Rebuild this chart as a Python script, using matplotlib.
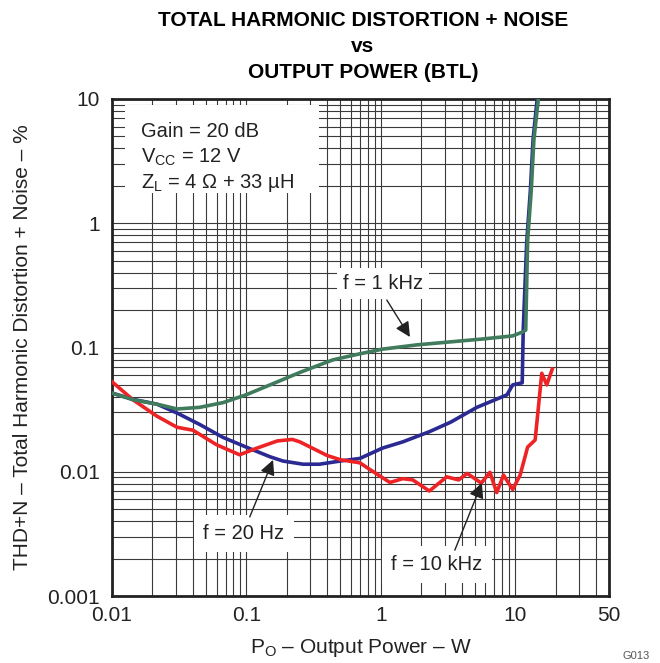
import matplotlib
matplotlib.use('Agg')
from matplotlib import pyplot as plt
from matplotlib.patches import Rectangle
from matplotlib.ticker import LogLocator, NullFormatter, FixedLocator, FixedFormatter

plt.rcParams['font.family'] = ['Liberation Sans', 'DejaVu Sans']
plt.rcParams['mathtext.fontset'] = 'custom'
plt.rcParams['mathtext.rm'] = 'Liberation Sans'

# output power (W) and THD+N (%)
p_1k = [0.01, 0.0143, 0.0216, 0.0305, 0.045, 0.067, 0.1, 0.15, 0.25, 0.44, 0.7,
        1.03, 1.86, 3.3, 5.7, 9.6, 11.3, 12.0, 12.4, 13.2, 13.8, 14.9]
thd_1k = [0.043, 0.038, 0.035, 0.032, 0.033, 0.036, 0.0417, 0.050, 0.063, 0.0795, 0.089,
          0.097, 0.105, 0.111, 0.117, 0.124, 0.133, 0.138, 0.73, 1.85, 4.7, 10]

p_20 = [0.01, 0.0143, 0.0216, 0.0305, 0.045, 0.067, 0.101, 0.15, 0.187, 0.264, 0.35,
        0.5, 0.7, 1.03, 1.46, 2.3, 3.3, 5.2, 8.7, 9.6, 11.3, 11.5, 12.2, 13.0, 13.6, 14.6]
thd_20 = [0.043, 0.0383, 0.035, 0.0297, 0.024, 0.0189, 0.0157, 0.0132, 0.0122, 0.0115, 0.0115,
          0.0122, 0.0128, 0.0155, 0.0174, 0.021, 0.025, 0.033, 0.0416, 0.050, 0.052, 0.14,
          0.7, 1.85, 4.7, 10]

p_10k = [0.01, 0.0143, 0.0216, 0.0305, 0.04, 0.06, 0.089, 0.12, 0.17, 0.22, 0.25, 0.4,
         0.5, 0.7, 0.79, 1.17, 1.46, 1.73, 2.3, 3.1, 3.8, 4.4, 5.6, 6.5, 7.3, 8.2, 9.6,
         10.9, 12.4, 14.1, 15.8, 17.2, 18.9]
thd_10k = [0.053, 0.038, 0.028, 0.0228, 0.0216, 0.0165, 0.0137, 0.0155, 0.0177, 0.0182,
           0.0174, 0.0135, 0.0125, 0.0118, 0.0108, 0.0082, 0.0088, 0.0086, 0.0070, 0.0091,
           0.0086, 0.0097, 0.0081, 0.0099, 0.0068, 0.0094, 0.0072, 0.0094, 0.0158, 0.018,
           0.062, 0.050, 0.067]

x_ticks = [0.01, 0.1, 1, 10, 50]
x_labels = ['0.01', '0.1', '1', '10', '50']
y_ticks = [0.001, 0.01, 0.1, 1, 10]
y_labels = ['0.001', '0.01', '0.1', '1', '10']

fig = plt.figure(figsize=(6.6, 6.63), dpi=100)
ax = fig.add_axes([112 / 660, 1 - 596 / 663, 497 / 660, 497 / 663])
ax.set_xscale('log')
ax.set_yscale('log')
ax.set_xlim(0.01, 50)
ax.set_ylim(0.001, 10)

ax.xaxis.set_major_locator(FixedLocator(x_ticks))
ax.xaxis.set_major_formatter(FixedFormatter(x_labels))
ax.xaxis.set_minor_locator(LogLocator(base=10, subs=range(2, 10), numticks=20))
ax.xaxis.set_minor_formatter(NullFormatter())
ax.yaxis.set_major_locator(FixedLocator(y_ticks))
ax.yaxis.set_major_formatter(FixedFormatter(y_labels))
ax.yaxis.set_minor_locator(LogLocator(base=10, subs=range(2, 10), numticks=20))
ax.yaxis.set_minor_formatter(NullFormatter())

ax.grid(True, which='both', color='#3a3a3a', lw=0.8)
ax.tick_params(which='both', length=0, labelsize=15, colors='#222222')
ax.tick_params(axis='x', pad=7)
ax.tick_params(axis='y', pad=9)
for s in ax.spines.values():
    s.set_linewidth(2)
    s.set_color('#222222')

ax.plot(p_20, thd_20, color='#2a2a92', lw=2.6, zorder=3)
ax.plot(p_1k, thd_1k, color='#3f7b5c', lw=2.6, zorder=4)
ax.plot(p_10k, thd_10k, color='#ee2326', lw=2.6, zorder=3)

# conditions box
ax.add_patch(Rectangle((0.026, 0.81), 0.39, 0.178, transform=ax.transAxes,
                       facecolor='white', edgecolor='none', zorder=5))
cond = ['Gain = 20 dB', r'V$_{\mathregular{CC}}$ = 12 V',
        r'Z$_{\mathregular{L}}$ = 4 Ω + 33 µH']
for i, t in enumerate(cond):
    ax.text(0.058, 0.935 - i * 0.052, t, transform=ax.transAxes, fontsize=14.5,
            color='#222222', va='center', ha='left', zorder=6)

box = dict(boxstyle='square,pad=0.45', facecolor='white', edgecolor='none')
arrow = dict(arrowstyle='-|>,head_length=0.9,head_width=0.45', color='#222222',
             lw=1, shrinkA=0, shrinkB=0)

ax.text(1.04, 0.33, 'f = 1 kHz', fontsize=14.5, color='#222222', ha='center',
        va='center', bbox=dict(boxstyle='square,pad=0.3', facecolor='white',
                               edgecolor='none'), zorder=6)
ax.annotate('', xy=(1.65, 0.1215), xytext=(1.11, 0.241), arrowprops=arrow, zorder=6)

ax.text(0.096, 0.00321, 'f = 20 Hz', fontsize=14.5, color='#222222', ha='center',
        va='center', bbox=box, zorder=6)
ax.annotate('', xy=(0.158, 0.01245), xytext=(0.106, 0.00433), arrowprops=arrow, zorder=6)

ax.text(2.62, 0.00178, 'f = 10 kHz', fontsize=14.5, color='#222222', ha='center',
        va='center', bbox=box, zorder=6)
ax.annotate('', xy=(5.66, 0.00813), xytext=(3.56, 0.00234), arrowprops=arrow, zorder=6)

ax.set_xlabel(r'P$_{\mathregular{O}}$ – Output Power – W', fontsize=15,
              color='#222222', labelpad=9)
ax.set_ylabel('THD+N – Total Harmonic Distortion + Noise – %', fontsize=15,
              color='#222222', labelpad=11)

title = ['TOTAL HARMONIC DISTORTION + NOISE', 'vs', 'OUTPUT POWER (BTL)']
for i, t in enumerate(title):
    fig.text(363 / 660, 1 - (20 + i * 26.5) / 663, t, fontsize=15, fontweight='bold',
             ha='center', va='center', color='black')

fig.text(0.985, 2 / 663, 'G013', fontsize=8, color='#555555', ha='right', va='bottom')

fig.savefig('out.png', dpi=100)
